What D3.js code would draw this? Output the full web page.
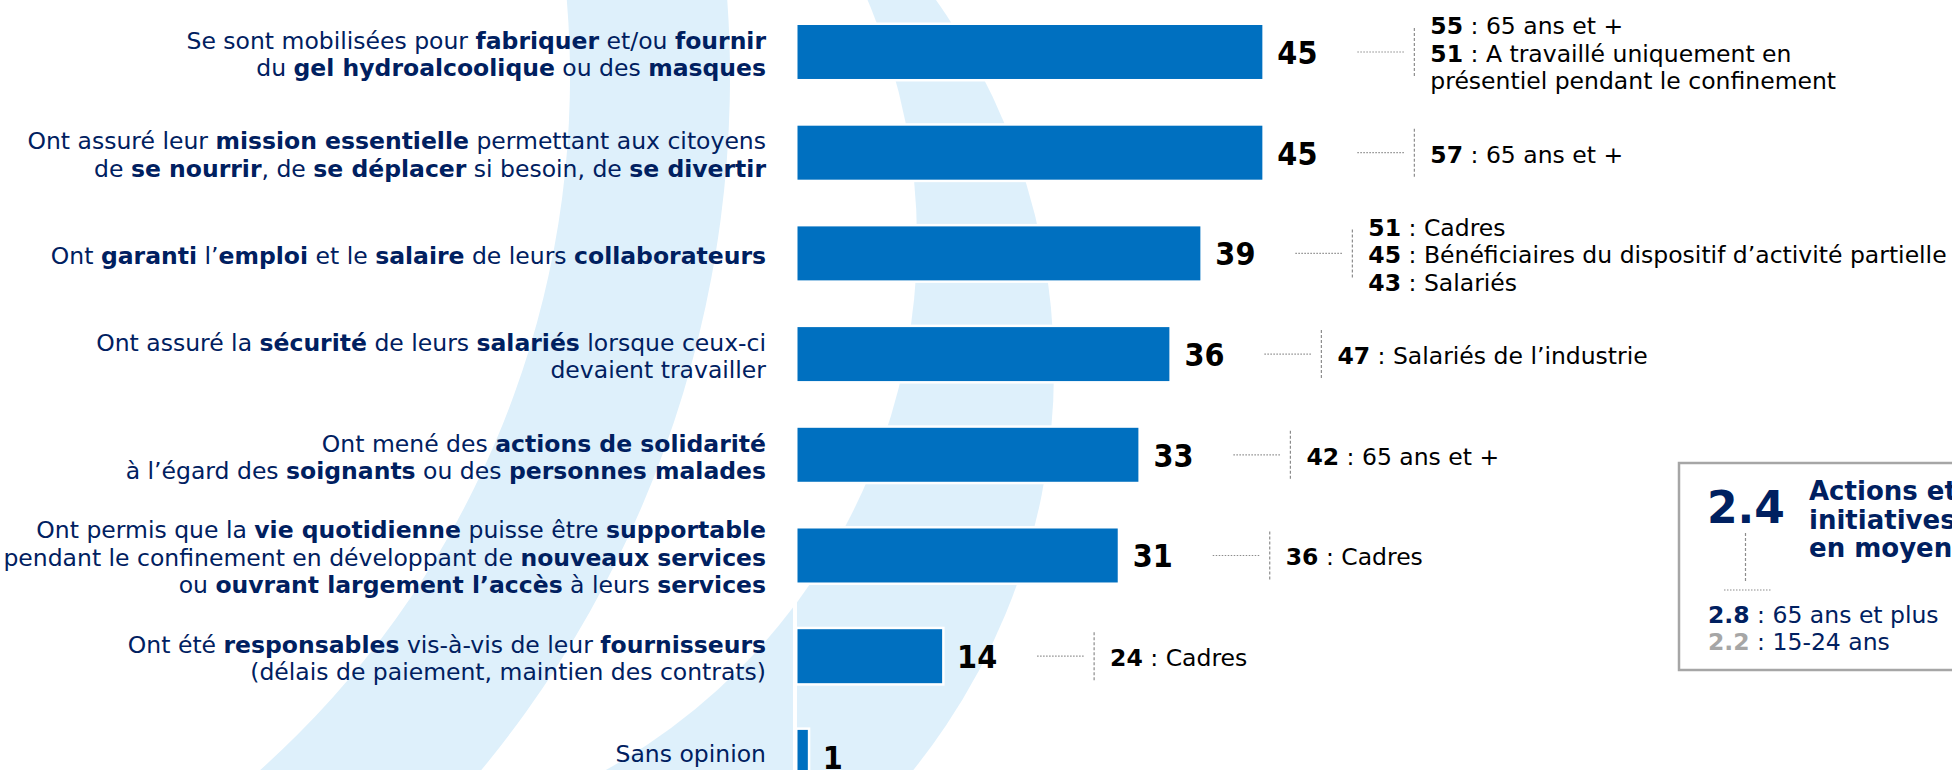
<!DOCTYPE html>
<html>
<head>
<meta charset="utf-8">
<script src="https://cdn.jsdelivr.net/npm/d3@7"></script>
<style>
  html, body { margin: 0; padding: 0; background: #fff; overflow: hidden; }
  svg { display: block; }
  text { font-family: "DejaVu Sans", Verdana, sans-serif; white-space: pre; }
  .val { font-family: "DejaVu Sans Condensed", "DejaVu Sans", sans-serif; font-stretch: condensed; font-weight: bold; }
</style>
</head>
<body>
<svg width="1952" height="770"></svg>
<script>
// categories (** marks the bold words)
var labels = [
  ["Se sont mobilisées pour **fabriquer** et/ou **fournir**", "du **gel hydroalcoolique** ou des **masques**"],
  ["Ont assuré leur **mission essentielle** permettant aux citoyens", "de **se nourrir**, de **se déplacer** si besoin, de **se divertir**"],
  ["Ont **garanti** l’**emploi** et le **salaire** de leurs **collaborateurs**"],
  ["Ont assuré la **sécurité** de leurs **salariés** lorsque ceux-ci", "devaient travailler"],
  ["Ont mené des **actions de solidarité**", "à l’égard des **soignants** ou des **personnes malades**"],
  ["Ont permis que la **vie quotidienne** puisse être **supportable**", "pendant le confinement en développant de **nouveaux services**", "ou **ouvrant largement l’accès** à leurs **services**"],
  ["Ont été **responsables** vis-à-vis de leur **fournisseurs**", "(délais de paiement, maintien des contrats)"],
  ["Sans opinion"]
];

// % of answers
var values = [45, 45, 39, 36, 33, 31, 14, 1];

// sub-group highlights next to each bar
var details = [
  [["55", "65 ans et +"], ["51", "A travaillé uniquement en"], ["", "présentiel pendant le confinement"]],
  [["57", "65 ans et +"]],
  [["51", "Cadres"], ["45", "Bénéficiaires du dispositif d’activité partielle"], ["43", "Salariés"]],
  [["47", "Salariés de l’industrie"]],
  [["42", "65 ans et +"]],
  [["36", "Cadres"]],
  [["24", "Cadres"]],
  []
];

// average box
var avgValue = "2.4";
var avgTitle = ["Actions et", "initiatives", "en moyenne"];
var avgDetails = [["2.8", "65 ans et plus", "#002060"], ["2.2", "15-24 ans", "#a6a6a6"]];

var width = 1952, height = 770,
    navy = "#002060", blue = "#0070c0", pale = "#def0fb", grey = "#8c8c8c",
    fs = 23.5, lineH = 27.5;

var svg = d3.select("svg");

var x = d3.scaleLinear().domain([0, 100]).range([797.5, 1830.5]);
var y = d3.scaleBand()
    .domain(d3.range(values.length))
    .range([25, 25 + 100.7 * (values.length - 0.464)])
    .paddingInner(0.464)
    .paddingOuter(0);

// background swoosh
var defs = svg.append("defs");
var mask = defs.append("mask").attr("id", "cut");
mask.append("rect").attr("x", 300).attr("y", 0).attr("width", width).attr("height", height).attr("fill", "#fff");
mask.append("circle").attr("cx", 310).attr("cy", 240).attr("r", 607).attr("fill", "#000");

svg.append("path")
    .attr("transform", "translate(-360,77)")
    .attr("d", d3.arc()({innerRadius: 930, outerRadius: 1090, startAngle: Math.PI / 3, endAngle: Math.PI * 8 / 9}))
    .attr("fill", pale);

svg.append("circle")
    .attr("cx", 415).attr("cy", 370).attr("r", 639)
    .attr("fill", pale)
    .attr("mask", "url(#cut)");

// white axis line
svg.append("line")
    .attr("x1", 795).attr("x2", 795).attr("y1", 0).attr("y2", height)
    .attr("stroke", "#fff").attr("stroke-width", 4);

// bars
svg.append("g").selectAll("rect")
  .data(values)
  .join("rect")
    .attr("x", x(0))
    .attr("y", function(d, i) { return y(i); })
    .attr("width", function(d) { return x(d) - x(0); })
    .attr("height", y.bandwidth())
    .attr("fill", blue)
    .attr("stroke", "#fff")
    .attr("stroke-width", 5)
    .style("paint-order", "stroke");

function segments(line) {
    return line.split("**").map(function(s, i) { return {text: s, bold: i % 2 === 1}; })
        .filter(function(s) { return s.text.length; });
}

function mid(i) { return y(i) + y.bandwidth() / 2; }

// category labels (kept above the bottom edge)
labels.forEach(function(lines, i) {
    lines.forEach(function(ln, j) {
        var t = svg.append("text")
            .attr("x", 766)
            .attr("y", Math.min(height - 8, mid(i) + (j - (lines.length - 1) / 2) * lineH + 10.5))
            .attr("text-anchor", "end")
            .attr("font-size", fs)
            .attr("fill", navy);
        segments(ln).forEach(function(s) {
            t.append("tspan").attr("font-weight", s.bold ? "bold" : "normal").text(s.text);
        });
    });
});

// value labels
svg.append("g").selectAll("text")
  .data(values)
  .join("text")
    .attr("class", "val")
    .attr("x", function(d) { return x(d) + 15; })
    .attr("y", function(d, i) { return mid(i) + 12; })
    .attr("font-size", 32)
    .attr("fill", "#000")
    .text(function(d) { return d; });

// connectors + highlights
details.forEach(function(list, i) {
    if (!list.length) return;
    var xe = x(values[i]), cy = mid(i);
    svg.append("line")
        .attr("x1", xe + 95).attr("x2", xe + 143).attr("y1", cy).attr("y2", cy)
        .attr("stroke", grey).attr("stroke-width", 1.2).attr("stroke-dasharray", "1.5,1.5");
    svg.append("line")
        .attr("x1", xe + 152).attr("x2", xe + 152).attr("y1", cy - 24).attr("y2", cy + 24)
        .attr("stroke", grey).attr("stroke-width", 1.2).attr("stroke-dasharray", "3,2");
    list.forEach(function(d, j) {
        var t = svg.append("text")
            .attr("x", xe + 168)
            .attr("y", cy + (j - (list.length - 1) / 2) * lineH + 10)
            .attr("font-size", fs)
            .attr("fill", "#000");
        if (d[0]) {
            t.append("tspan").attr("font-weight", "bold").text(d[0]);
            t.append("tspan").text(" : " + d[1]);
        } else {
            t.append("tspan").text(d[1]);
        }
    });
});

// average box
var box = svg.append("g");
box.append("rect")
    .attr("x", 1679).attr("y", 463).attr("width", 400).attr("height", 207)
    .attr("fill", "#fff").attr("stroke", "#a6a6a6").attr("stroke-width", 2.5);
box.append("text")
    .attr("x", 1707).attr("y", 523)
    .attr("font-size", 44).attr("font-weight", "bold").attr("fill", navy)
    .text(avgValue);
avgTitle.forEach(function(s, j) {
    box.append("text")
        .attr("x", 1809).attr("y", 500 + j * 28.5)
        .attr("font-size", 26).attr("font-weight", "bold").attr("fill", navy)
        .text(s);
});
box.append("line")
    .attr("x1", 1745.5).attr("x2", 1745.5).attr("y1", 533).attr("y2", 582)
    .attr("stroke", grey).attr("stroke-width", 1.2).attr("stroke-dasharray", "3,2");
box.append("line")
    .attr("x1", 1724).attr("x2", 1772).attr("y1", 590).attr("y2", 590)
    .attr("stroke", grey).attr("stroke-width", 1.2).attr("stroke-dasharray", "1.5,1.5");
avgDetails.forEach(function(d, j) {
    var t = box.append("text")
        .attr("x", 1708).attr("y", 623 + j * 26.5)
        .attr("font-size", 23.5).attr("fill", navy);
    t.append("tspan").attr("font-weight", "bold").attr("fill", d[2]).text(d[0]);
    t.append("tspan").text(" : " + d[1]);
});
</script>
</body>
</html>
